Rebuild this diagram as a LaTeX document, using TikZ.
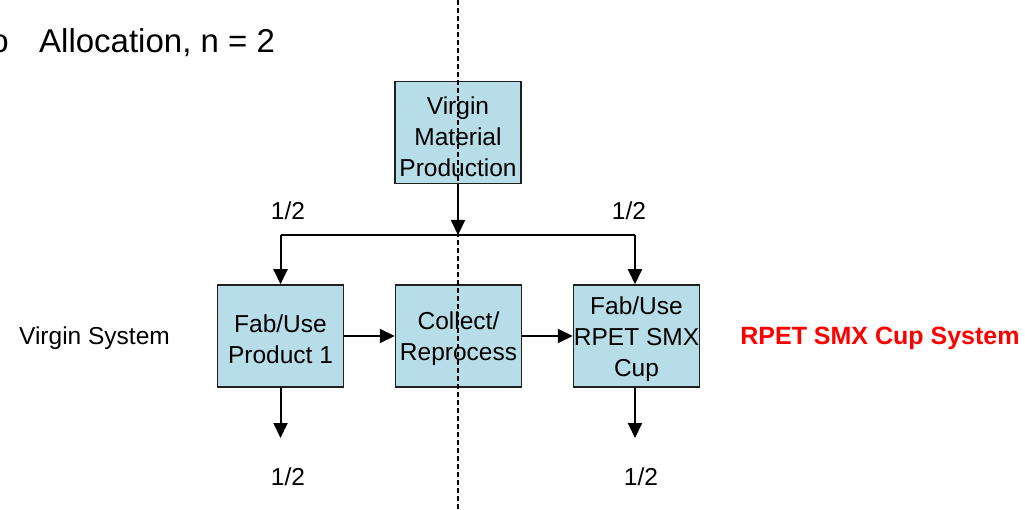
\documentclass[tikz,border=0pt]{standalone}
\usepackage{fontspec}
\setmainfont{Liberation Sans}
\usetikzlibrary{arrows.meta}
\definecolor{boxfill}{HTML}{B7DDE8}
\definecolor{boxline}{HTML}{202020}
\definecolor{sysred}{HTML}{FF0000}
\begin{document}
\begin{tikzpicture}[x=1pt,y=-1pt,
  procbox/.style={draw=boxline,line width=1.5pt,fill=boxfill,minimum width=126pt,minimum height=102pt,
    inner sep=0pt},
  lbl/.style={inner sep=0pt,font=\fontsize{24.5}{30}\selectfont},
  boxtext/.style={inner sep=0pt,align=center,font=\fontsize{24.5}{31}\selectfont},
  flow/.style={line width=2pt,-{Triangle[length=15pt,width=14pt]}},
  plain/.style={line width=2pt}]
\useasboundingbox (0,0) rectangle (1025,510);
\fill[white] (0,0) rectangle (1025,510);
% title
\begin{scope}
\clip (0,0) rectangle (1025,510);
\node[inner sep=0pt,anchor=base east,font=\fontsize{33}{36}\selectfont] (frag) at (9,53) {o};
\end{scope}
\node[inner sep=0pt,anchor=base west,font=\fontsize{33}{36}\selectfont] (title) at (39,53) {Allocation, n = 2};
% boxes
\node[procbox] (vmp) at (458,132.5) {};
\node[procbox] (fab1) at (280.5,336) {};
\node[procbox] (coll) at (458.5,336) {};
\node[procbox] (fab2) at (636.5,336) {};
\node[boxtext] (vmpt) at (vmp) [yshift=-4.5pt] {Virgin\\Material\\Production};
\node[boxtext] (fab1t) at (fab1) [yshift=-3pt] {Fab/Use\\Product 1};
\node[boxtext] (collt) at (coll) [yshift=-3pt] {Collect/\\Reprocess};
\node[boxtext] (fab2t) at (fab2) [yshift=-3pt] {Fab/Use\\RPET SMX\\Cup};
% coordinates
\coordinate (split) at (458,235);
\coordinate (bl) at (280.5,235);
\coordinate (br) at (635,235);
\coordinate (outl) at (280.5,438);
\coordinate (outr) at (635,438);
% connectors
\draw[flow] (vmp.south) -- (split);
\draw[plain] (bl) -- (br);
\draw[flow] (bl) -- (fab1.north);
\draw[flow] (br) -- (br |- fab2.north);
\draw[flow] (fab1.east) -- (coll.west);
\draw[flow] (coll.east) -- (fab2.west);
\draw[flow] (fab1.south) -- (outl);
\draw[flow] (br |- fab2.south) -- (outr);
% labels
\node[lbl] (h1) at (288,211) {1/2};
\node[lbl] (h2) at (629,211) {1/2};
\node[lbl] (h3) at (288,477) {1/2};
\node[lbl] (h4) at (641,477) {1/2};
\node[lbl] (vs) at (94.5,338) {Virgin System};
\node[lbl,text=sysred,font=\fontsize{25}{30}\selectfont\bfseries] (rs) at (880,338) {RPET SMX Cup System};
% dashed divider
\coordinate (dtop) at (458,0);
\coordinate (dbot) at (458,510);
\draw[line width=1.5pt,dash pattern=on 5pt off 3pt] (dtop) -- (dbot);
\end{tikzpicture}
\end{document}
